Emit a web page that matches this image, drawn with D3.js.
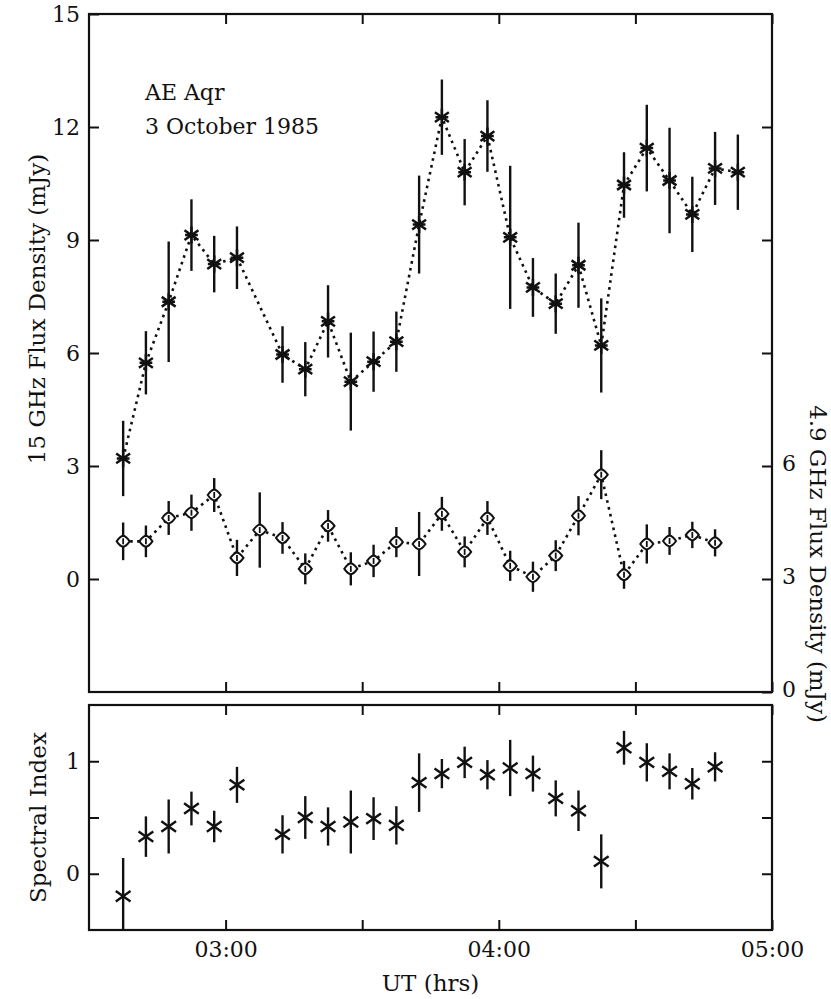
<!DOCTYPE html>
<html>
<head>
<meta charset="utf-8">
<script src="https://cdn.jsdelivr.net/npm/d3@7"></script>
<style>
  html, body { margin: 0; padding: 0; background: #fff; }
  svg { display: block; }
  text { font-family: "DejaVu Serif", serif; fill: #111; }
</style>
</head>
<body>
<svg id="chart" width="831" height="999"></svg>
<script>
// ---------------- data ----------------
const times = ["02:37:30","02:42:30","02:47:30","02:52:30","02:57:30","03:02:30","03:07:30",
  "03:12:30","03:17:30","03:22:30","03:27:30","03:32:30","03:37:30","03:42:30","03:47:30",
  "03:52:30","03:57:30","04:02:30","04:07:30","04:12:30","04:17:30","04:22:30","04:27:30",
  "04:32:30","04:37:30","04:42:30","04:47:30","04:52:30"];
// 15 GHz flux density (mJy), left axis
const flux15 = [3.2, 5.74, 7.36, 9.13, 8.36, 8.53, null, 5.96, 5.57, 6.84, 5.24, 5.77, 6.3, 9.41,
  12.26, 10.8, 11.76, 9.07, 7.74, 7.31, 8.33, 6.2, 10.46, 11.44, 10.58, 9.68, 10.9, 10.8];
const err15 = [1.0, 0.84, 1.6, 0.95, 0.75, 0.83, null, 0.75, 0.72, 0.96, 1.3, 0.8, 0.8, 1.3,
  1.0, 0.88, 0.95, 1.9, 0.78, 0.8, 1.13, 1.25, 0.87, 1.15, 1.4, 1.0, 0.97, 1.0];
// 4.9 GHz flux density (mJy), right axis
const flux49 = [4.0, 4.0, 4.62, 4.76, 5.23, 3.56, 4.3, 4.09, 3.27, 4.41, 3.27, 3.48, 3.98, 3.93,
  4.73, 3.72, 4.62, 3.35, 3.06, 3.62, 4.68, 5.77, 3.11, 3.93, 4.01, 4.17, 3.96, null];
const err49 = [0.5, 0.42, 0.45, 0.48, 0.45, 0.48, 1.0, 0.42, 0.41, 0.42, 0.44, 0.43, 0.4, 0.85,
  0.45, 0.41, 0.45, 0.4, 0.4, 0.41, 0.52, 0.65, 0.37, 0.52, 0.37, 0.35, 0.36, null];
// spectral index
const specIndex = [-0.2, 0.33, 0.42, 0.58, 0.42, 0.79, null, 0.35, 0.5, 0.42, 0.46, 0.49, 0.43, 0.81,
  0.89, 0.99, 0.88, 0.94, 0.89, 0.67, 0.56, 0.11, 1.12, 0.99, 0.91, 0.8, 0.95, null];
const errSpec = [0.34, 0.18, 0.24, 0.15, 0.14, 0.16, null, 0.17, 0.19, 0.17, 0.28, 0.19, 0.17, 0.26,
  0.13, 0.14, 0.13, 0.25, 0.16, 0.16, 0.18, 0.24, 0.15, 0.17, 0.16, 0.14, 0.13, null];

const xDomain = ["02:30", "05:00"];
const xTicks = ["03:00", "03:30", "04:00", "04:30", "05:00"];
const xTickLabels = ["03:00", "", "04:00", "", "05:00"];
const leftTicks = [0, 3, 6, 9, 12, 15];
const rightTicks = [0, 3, 6, 9, 12, 15];
const rightTickLabels = ["0", "3", "6", "", "", ""];
const specTicks = [0, 0.5, 1];
const specTickLabels = ["0", "", "1"];
const titleLines = ["AE Aqr", "3 October 1985"];

// ---------------- layout ----------------
const svg = d3.select("#chart");
const L = 89, R = 772;
const topY0 = 14, topY1 = 692;
const botY0 = 705, botY1 = 930;

const toMin = s => { const p = s.split(":").map(Number); return p[0]*60 + p[1] + (p[2]||0)/60; };
const x = d3.scaleLinear().domain(xDomain.map(toMin)).range([L, R]);
const yL = d3.scaleLinear().domain([-3, 15]).range([topY1, topY0]);
const yR = d3.scaleLinear().domain([0, 18]).range([topY1, topY0]);
const yS = d3.scaleLinear().domain([-0.5, 1.5]).range([botY1, botY0]);

const tickVals = xTicks.map(toMin);
const fmtX = v => { const i = tickVals.indexOf(v); return i >= 0 ? xTickLabels[i] : ""; };

const FS = 22;
function styleAxis(g) {
  g.select(".domain").remove();
  g.selectAll(".tick line").attr("stroke", "#111").attr("stroke-width", 2);
  g.selectAll(".tick text").attr("font-size", FS).attr("font-family", "DejaVu Serif, serif").attr("fill", "#111");
}

// ---- top panel axes ----
svg.append("g").attr("transform", `translate(${L},0)`)
  .call(d3.axisLeft(yL).tickValues(leftTicks).tickSize(-10).tickPadding(9).tickFormat(d3.format("d")))
  .call(styleAxis);
svg.append("g").attr("transform", `translate(${R},0)`)
  .call(d3.axisRight(yR).tickValues(rightTicks).tickSize(-10).tickPadding(10)
    .tickFormat((d, i) => rightTickLabels[i]))
  .call(styleAxis)
  .call(g => g.selectAll(".tick text").attr("dy", "0.2em"));
svg.append("g").attr("transform", `translate(0,${topY0})`)
  .call(d3.axisTop(x).tickValues(tickVals).tickSize(-10).tickFormat(() => ""))
  .call(styleAxis);
svg.append("g").attr("transform", `translate(0,${topY1})`)
  .call(d3.axisBottom(x).tickValues(tickVals).tickSize(-10).tickFormat(() => ""))
  .call(styleAxis);

// ---- bottom panel axes ----
svg.append("g").attr("transform", `translate(${L},0)`)
  .call(d3.axisLeft(yS).tickValues(specTicks).tickSize(-10).tickPadding(9)
    .tickFormat((d, i) => specTickLabels[i]))
  .call(styleAxis);
svg.append("g").attr("transform", `translate(${R},0)`)
  .call(d3.axisRight(yS).tickValues(specTicks).tickSize(-10).tickFormat(() => ""))
  .call(styleAxis);
svg.append("g").attr("transform", `translate(0,${botY0})`)
  .call(d3.axisTop(x).tickValues(tickVals).tickSize(-10).tickFormat(() => ""))
  .call(styleAxis);
svg.append("g").attr("transform", `translate(0,${botY1})`)
  .call(d3.axisBottom(x).tickValues(tickVals).tickSize(-10).tickPadding(11).tickFormat(fmtX))
  .call(styleAxis);

// frames
svg.append("rect").attr("x", L).attr("y", topY0).attr("width", R - L).attr("height", topY1 - topY0)
  .attr("fill", "none").attr("stroke", "#111").attr("stroke-width", 2.2);
svg.append("rect").attr("x", L).attr("y", botY0).attr("width", R - L).attr("height", botY1 - botY0)
  .attr("fill", "none").attr("stroke", "#111").attr("stroke-width", 2.2);

// ---------------- marks ----------------
const pts15 = times.map((t, i) => ({ t: toMin(t), v: flux15[i], e: err15[i] })).filter(d => d.v != null);
const pts49 = times.map((t, i) => ({ t: toMin(t), v: flux49[i], e: err49[i] })).filter(d => d.v != null);
const ptsS = times.map((t, i) => ({ t: toMin(t), v: specIndex[i], e: errSpec[i] })).filter(d => d.v != null);

const dotted = { stroke: "#111", "stroke-width": 2.6, "stroke-dasharray": "2.6,4.4", fill: "none" };
function applyAttrs(sel, o) { Object.entries(o).forEach(([k, v]) => sel.attr(k, v)); return sel; }

applyAttrs(svg.append("path").datum(pts15)
  .attr("d", d3.line().x(d => x(d.t)).y(d => yL(d.v))), dotted);
applyAttrs(svg.append("path").datum(pts49)
  .attr("d", d3.line().x(d => x(d.t)).y(d => yR(d.v))), dotted);

function errorBars(data, yScale, clip) {
  svg.append("g").selectAll("line").data(data).join("line")
    .attr("x1", d => x(d.t)).attr("x2", d => x(d.t))
    .attr("y1", d => Math.min(clip[1], yScale(d.v - d.e)))
    .attr("y2", d => Math.max(clip[0], yScale(d.v + d.e)))
    .attr("stroke", "#111").attr("stroke-width", 2.4);
}
errorBars(pts15, yL, [topY0, topY1]);
errorBars(pts49, yR, [topY0, topY1]);
errorBars(ptsS, yS, [botY0, botY1]);

// asterisk markers (15 GHz)
const a = 35 * Math.PI / 180;
function starPath(r) {
  const dx = r * Math.cos(a), dy = r * Math.sin(a);
  return `M${-dx},${-dy}L${dx},${dy}M${-dx},${dy}L${dx},${-dy}M${-r*0.75},0L${r*0.75},0M0,${-r}L0,${r}`;
}
svg.append("g").selectAll("path").data(pts15).join("path")
  .attr("transform", d => `translate(${x(d.t)},${yL(d.v)})`)
  .attr("d", starPath(8.5)).attr("stroke", "#111").attr("stroke-width", 2.5).attr("fill", "none");

// diamond markers (4.9 GHz)
svg.append("g").selectAll("path").data(pts49).join("path")
  .attr("transform", d => `translate(${x(d.t)},${yR(d.v)})`)
  .attr("d", "M-6.5,0Q-3,-5 0,-5.5Q3,-5 6.5,0Q3,5 0,5.5Q-3,5 -6.5,0Z")
  .attr("stroke", "#111").attr("stroke-width", 2).attr("fill", "#fff");
svg.append("g").selectAll("line").data(pts49).join("line")
  .attr("x1", d => x(d.t)).attr("x2", d => x(d.t))
  .attr("y1", d => yR(d.v) - 3).attr("y2", d => yR(d.v) + 3)
  .attr("stroke", "#111").attr("stroke-width", 1.8);

// cross markers (spectral index)
function crossPath(r) {
  const dx = r * Math.cos(a), dy = r * Math.sin(a);
  return `M${-dx},${-dy}L${dx},${dy}M${-dx},${dy}L${dx},${-dy}`;
}
svg.append("g").selectAll("path").data(ptsS).join("path")
  .attr("transform", d => `translate(${x(d.t)},${yS(d.v)})`)
  .attr("d", crossPath(9)).attr("stroke", "#111").attr("stroke-width", 2.4).attr("fill", "none");

// ---------------- text ----------------
svg.append("g").selectAll("text").data(titleLines).join("text")
  .attr("x", 145).attr("y", (d, i) => 100 + i * 34)
  .attr("font-size", 22).text(d => d);

svg.append("text")
  .attr("transform", `translate(45,309) rotate(-90)`)
  .attr("text-anchor", "middle").attr("font-size", 23)
  .text("15 GHz Flux Density (mJy)");
svg.append("text")
  .attr("transform", `translate(46,${(botY0 + botY1) / 2}) rotate(-90)`)
  .attr("text-anchor", "middle").attr("font-size", 23)
  .text("Spectral Index");
svg.append("text")
  .attr("transform", `translate(810,564) rotate(90)`)
  .attr("text-anchor", "middle").attr("font-size", 23)
  .text("4.9 GHz Flux Density (mJy)");
svg.append("text")
  .attr("x", (L + R) / 2).attr("y", 991)
  .attr("text-anchor", "middle").attr("font-size", 23)
  .text("UT (hrs)");
</script>
</body>
</html>
